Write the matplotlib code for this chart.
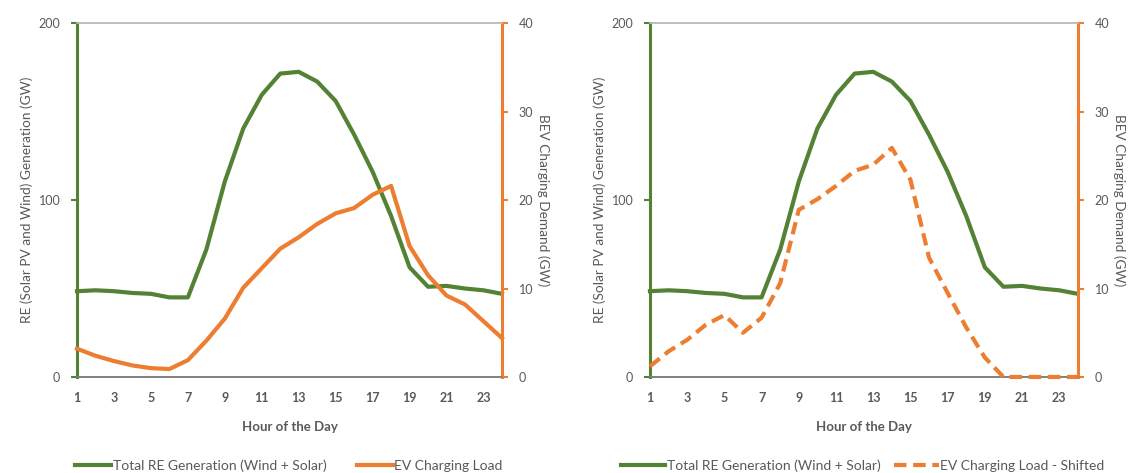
import numpy as np
import matplotlib
matplotlib.use("Agg")
import matplotlib.pyplot as plt

plt.rcParams["font.family"] = ["Lato", "DejaVu Sans"]

GREEN = "#548235"
ORANGE = "#ED7D31"
GREY = "#595959"

hours = list(range(1, 25))

# Total RE generation (GW), left axis
re_gen = [48.5, 49, 48.5, 47.5, 47, 45, 45, 72, 110.5, 140.5, 159.5, 171.5, 172.5, 167,
          156, 137, 116, 91, 62, 51, 51.5, 50, 49, 47]

# EV charging load (GW), right axis
ev_load = [3.2, 2.4, 1.8, 1.3, 1.0, 0.9, 1.9, 4.1, 6.6, 10.1, 12.3, 14.5, 15.8, 17.3,
           18.5, 19.1, 20.6, 21.6, 14.8, 11.5, 9.2, 8.2, 6.3, 4.4]

# EV charging load shifted (GW), right axis
ev_shifted = [1.2, 2.9, 4.2, 5.9, 7.0, 5.0, 6.7, 10.6, 18.9, 20.1, 21.6, 23.3, 24.0, 25.9,
              22.3, 13.5, 9.5, 5.6, 2.2, 0, 0, 0, 0, 0]

x_ticks = list(range(1, 25, 2))
left_ticks = [0, 100, 200]
right_ticks = [0, 10, 20, 30, 40]

fig = plt.figure(figsize=(11.29, 4.73), dpi=100, facecolor="white")


def make_panel(rect, ev_values, ev_label, ev_style):
    ax = fig.add_axes(rect)
    ax2 = ax.twinx()

    ln1, = ax.plot(hours, re_gen, color=GREEN, lw=3.0, solid_joinstyle="round",
                   label="Total RE Generation (Wind + Solar)", zorder=3, clip_on=False)
    ln2, = ax2.plot(hours, ev_values, color=ORANGE, lw=3.0, linestyle=ev_style,
                    solid_joinstyle="round", label=ev_label, zorder=3, clip_on=False)

    ax.set_xlim(1, 24)
    ax.set_ylim(0, 200)
    ax2.set_ylim(0, 40)
    ax.set_xticks(x_ticks)
    ax.set_yticks(left_ticks)
    ax2.set_yticks(right_ticks)

    for a in (ax, ax2):
        a.spines["top"].set_color("#bfbfbf")
        a.spines["top"].set_linewidth(1.2)
        a.spines["bottom"].set_color("#808080")
        a.spines["bottom"].set_linewidth(1.2)
    ax2.spines["left"].set_color(GREEN)
    ax2.spines["left"].set_linewidth(2.2)
    ax2.spines["right"].set_color(ORANGE)
    ax2.spines["right"].set_linewidth(2.2)

    ax.tick_params(axis="x", length=0, pad=11, labelsize=9, labelcolor=GREY)
    ax.tick_params(axis="y", length=4, width=1.5, color=GREEN, labelsize=9,
                   labelcolor=GREY, pad=8)
    ax2.tick_params(axis="y", length=4, width=1.5, color=ORANGE, labelsize=9,
                    labelcolor=GREY, pad=8)
    for lab in ax.get_xticklabels():
        lab.set_fontweight("bold")

    ax.set_xlabel("Hour of the Day", fontsize=9.5, color=GREY, fontweight="bold", labelpad=12)
    ax.set_ylabel("RE (Solar PV and Wind) Generation (GW)", fontsize=9.8, color=GREY,
                  labelpad=4)
    ax2.set_ylabel("BEV Charging Demand (GW)", fontsize=9.8, color=GREY, rotation=-90,
                   labelpad=12)
    return ln1, ln2


h1, h2 = make_panel([0.0682, 0.203, 0.3764, 0.748], ev_load, "EV Charging Load", "-")
fig.legend([h1, h2], [h1.get_label(), h2.get_label()], loc="center",
           bbox_to_anchor=(0.256, 0.015), ncol=2, frameon=False, fontsize=10,
           labelcolor=GREY, handlelength=2.6, handletextpad=0.1, columnspacing=2.2)

h3, h4 = make_panel([0.5757, 0.203, 0.379, 0.748], ev_shifted,
                    "EV Charging Load - Shifted", (0, (3, 1.6)))
fig.legend([h3, h4], [h3.get_label(), h4.get_label()], loc="center",
           bbox_to_anchor=(0.764, 0.015), ncol=2, frameon=False, fontsize=10,
           labelcolor=GREY, handlelength=3.2, handletextpad=0.1, columnspacing=1.0)

fig.savefig("out.png", dpi=100, facecolor="white")
